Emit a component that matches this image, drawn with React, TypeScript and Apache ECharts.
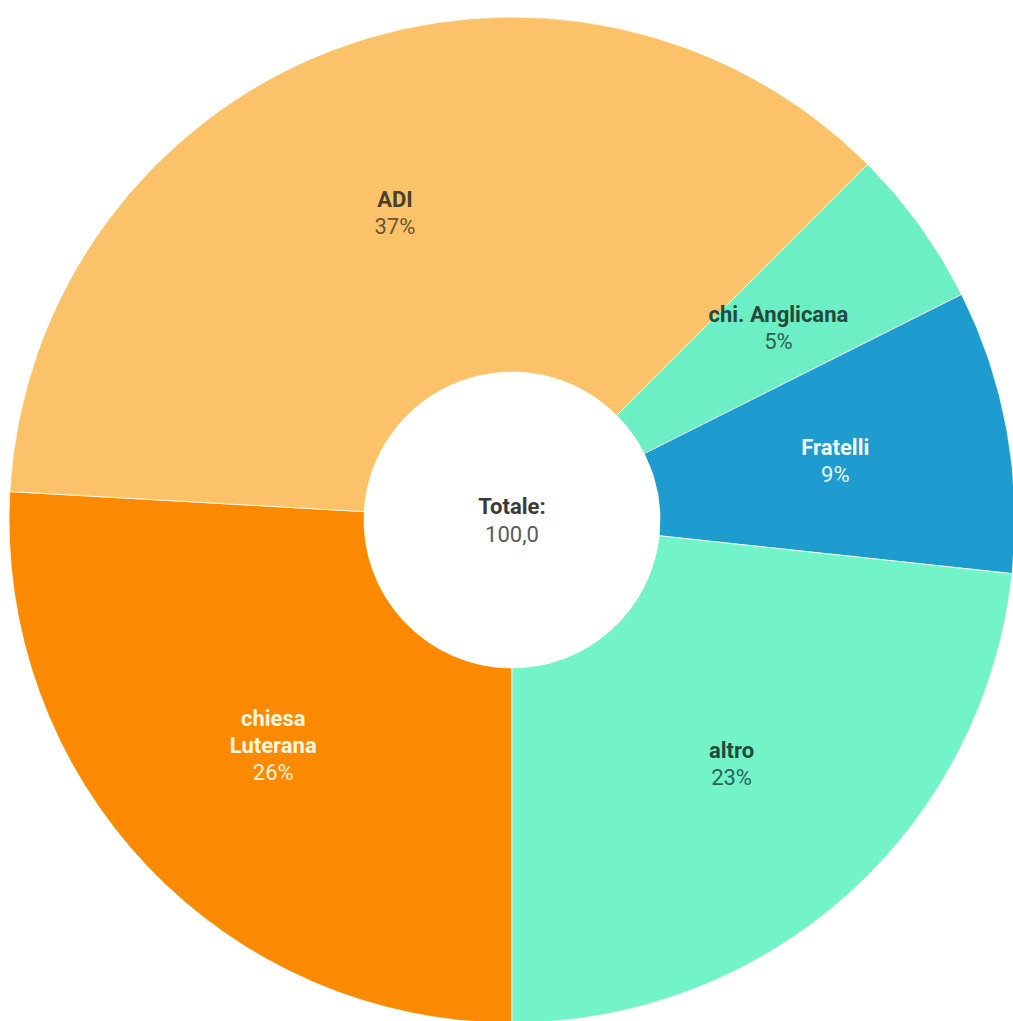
import React, { useEffect, useRef } from "react";
import * as echarts from "echarts";

const categories = ["chiesa Luterana", "ADI", "chi. Anglicana", "Fratelli", "altro"];
const values = [25.9, 36.6, 5.1, 9.1, 23.3];
const colors = ["#FB8A02", "#FCC26A", "#6CEFC4", "#1E9BCF", "#72F4C8"];
const nameColors = ["#FFF6E0", "#4A3F2C", "#23483C", "#F2FBFF", "#1F4A3C"];
const pctColors = ["#FFF3DA", "#6A5634", "#2E6150", "#EAF8FF", "#2C6452"];
const displayNames = ["chiesa\nLuterana", "ADI", "chi. Anglicana", "Fratelli", "altro"];
const totalLabel = "Totale:";
const totalValue = "100,0";

export default function App() {
  const ref = useRef<HTMLDivElement>(null);
  useEffect(() => {
    if (!ref.current) return;
    const chart = echarts.init(ref.current, undefined, { renderer: "svg" });
    const data = categories.map((c, i) => ({
      name: c,
      value: values[i],
      itemStyle: { color: colors[i] },
      label: {
        formatter: (p: any) =>
          displayNames[i]
            .split("\n")
            .map((s) => `{n${i}|${s}}`)
            .join("\n") + `\n{p${i}|${Math.round(p.percent)}%}`,
      },
    }));
    const rich: any = {};
    categories.forEach((_, i) => {
      rich["n" + i] = {
        fontFamily: "Roboto",
        fontWeight: "bold",
        fontSize: 22,
        lineHeight: 27,
        color: nameColors[i],
        align: "center",
      };
      rich["p" + i] = {
        fontFamily: "Roboto",
        fontSize: 22,
        lineHeight: 27,
        color: pctColors[i],
        align: "center",
      };
    });
    chart.setOption({
      animation: false,
      backgroundColor: "#ffffff",
      series: [
        {
          type: "pie",
          center: [512, 520],
          radius: [148, 503],
          startAngle: 270,
          clockwise: true,
          avoidLabelOverlap: false,
          itemStyle: { borderColor: "rgba(255,255,240,0.8)", borderWidth: 1 },
          label: {
            show: true,
            position: "inside",
            rich,
          },
          labelLine: { show: false },
          data,
        },
      ],
      graphic: [
        {
          type: "text",
          x: 512,
          y: 520,
          style: {
            text: `{a|${totalLabel}}\n{b|${totalValue}}`,
            align: "center",
            verticalAlign: "middle",
            rich: {
              a: { fontFamily: "Roboto", fontWeight: "bold", fontSize: 22, lineHeight: 28, fill: "#3a3a3a", align: "center" },
              b: { fontFamily: "Roboto", fontSize: 22, lineHeight: 28, fill: "#5a5a5a", align: "center" },
            },
          },
        },
      ],
    });
    return () => chart.dispose();
  }, []);
  return (
    <div
      ref={ref}
      style={{ position: "absolute", left: 0, top: 0, width: 1013, height: 1021 }}
    />
  );
}
